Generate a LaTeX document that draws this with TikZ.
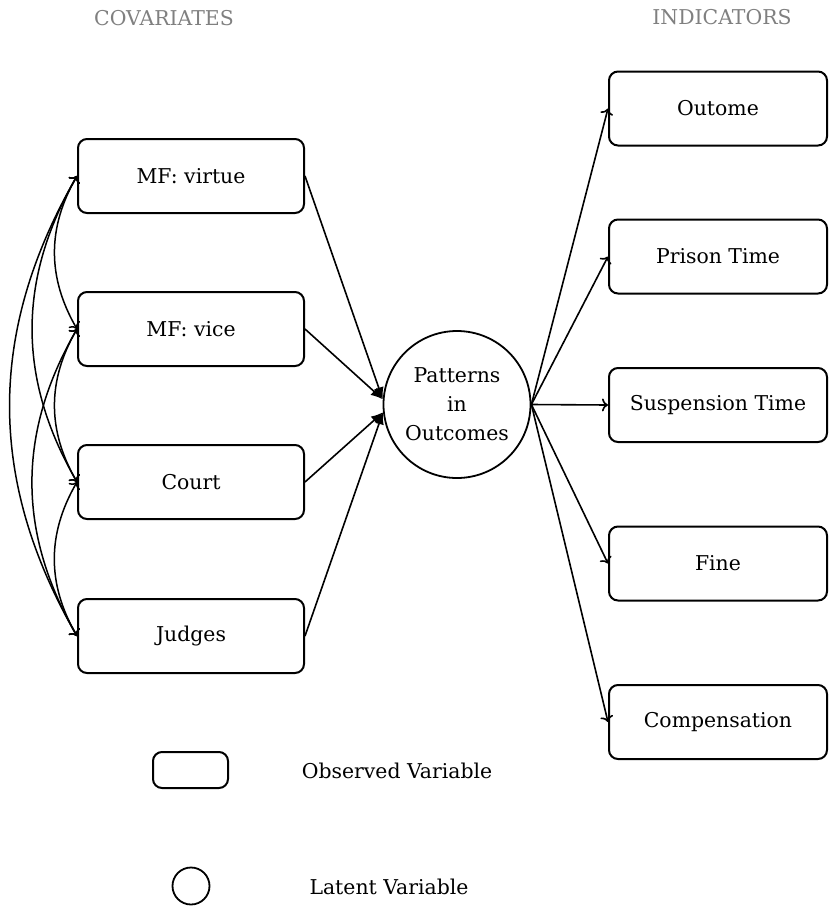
\documentclass[tikz,border=0pt]{standalone}
\usepackage{fontspec}
\setmainfont{DejaVu Serif}
\usetikzlibrary{arrows.meta}
\definecolor{labelgray}{gray}{0.5}
\begin{document}
\begin{tikzpicture}[x=1pt,y=-1pt,
  txt/.style={font=\fontsize{20.4}{29}\selectfont, inner sep=0pt, align=center},
  obs/.style={txt, draw, line width=2pt, rounded corners=9pt, minimum width=226pt, minimum height=74pt},
  obsr/.style={obs, minimum width=218pt},
  lat/.style={txt, draw, circle, line width=1.8pt, minimum size=147pt},
  head/.style={txt, text=labelgray},
  inarr/.style={line width=1.6pt, -{Latex[length=12pt,width=10pt]}},
  outarr/.style={line width=1.6pt, -{To[length=6pt,width=13pt]}},
  covarr/.style={line width=1.5pt, {To[length=6pt,width=13pt]}-{To[length=6pt,width=13pt]}, bend right=30}
]
\useasboundingbox (0,0) rectangle (829,906);

\node[head] (hcov) at (164,18.5) {COVARIATES};
\node[head] (hind) at (722,17.5) {INDICATORS};

\node[obs] (v1) at (191,176) {MF: virtue};
\node[obs] (v2) at (191,329) {MF: vice};
\node[obs] (v3) at (191,482) {Court};
\node[obs] (v4) at (191,636) {Judges};

\node[lat] (lv) at (457,404.5) {Patterns\\in\\Outcomes};

\node[obsr] (i1) at (718,108.5) {Outome};
\node[obsr] (i2) at (718,256.5) {Prison Time};
\node[obsr] (i3) at (718,405) {Suspension Time};
\node[obsr] (i4) at (718,563.5) {Fine};
\node[obsr] (i5) at (718,722) {Compensation};

\draw[inarr] (v1.east) -- (lv.176.5);
\draw[inarr] (v2.east) -- (lv.176.5);
\draw[inarr] (v3.east) -- (lv.186);
\draw[inarr] (v4.east) -- (lv.186);

\foreach \i in {i1,i2,i3,i4,i5}{\draw[outarr] (lv.east) -- (\i.west);}

\draw[covarr] (v1.west) to (v2.west);
\draw[covarr] (v1.west) to (v3.west);
\draw[covarr] (v1.west) to (v4.west);
\draw[covarr] (v2.west) to (v3.west);
\draw[covarr] (v2.west) to (v4.west);
\draw[covarr] (v3.west) to (v4.west);

\node[obs, minimum width=75pt, minimum height=36pt] (lgobs) at (190.5,770) {};
\node[txt] (lgobstxt) at (397,771) {Observed Variable};
\node[lat, minimum size=37pt] (lglat) at (191,886) {};
\node[txt] (lglattxt) at (389,887) {Latent Variable};
\end{tikzpicture}
\end{document}
